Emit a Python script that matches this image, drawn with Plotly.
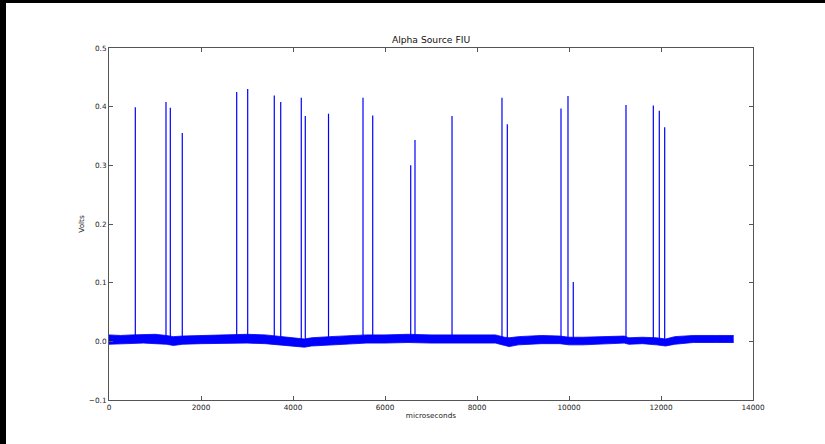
import plotly.graph_objects as go

# ---- data ----
spike_times = [572, 1239, 1333, 1593, 2776, 3015, 3593, 3733, 4180, 4267, 4772,
               5522, 5733, 6559, 6652, 7457, 8543, 8659, 9826, 9978, 10093,
               11239, 11833, 11963, 12080]
spike_peaks = [0.399, 0.408, 0.398, 0.355, 0.425, 0.430, 0.419, 0.408, 0.415, 0.384, 0.388,
               0.415, 0.385, 0.300, 0.343, 0.384, 0.415, 0.370, 0.397, 0.418, 0.101,
               0.403, 0.402, 0.393, 0.365]

band_times = [0, 250, 500, 750, 1000, 1250, 1400, 1600, 2000, 2500, 3000, 3400, 3700,
              4000, 4250, 4400, 4800, 5200, 5600, 6000, 6500, 7000, 7500, 8000, 8400,
              8600, 8700, 8900, 9400, 9800, 10000, 10300, 10800, 11200, 11300, 11600,
              11900, 12100, 12300, 12700, 13200, 13580]
band_upper = [0.011, 0.010, 0.011, 0.012, 0.012, 0.010, 0.008, 0.009, 0.010, 0.011, 0.012,
              0.011, 0.008, 0.006, 0.004, 0.006, 0.008, 0.010, 0.011, 0.011, 0.012, 0.011,
              0.011, 0.011, 0.011, 0.007, 0.006, 0.008, 0.010, 0.009, 0.007, 0.007, 0.008,
              0.009, 0.006, 0.007, 0.006, 0.004, 0.008, 0.010, 0.010, 0.010]
band_lower = [-0.005, -0.004, -0.004, -0.003, -0.004, -0.005, -0.007, -0.005, -0.004, -0.003,
              -0.003, -0.004, -0.006, -0.008, -0.010, -0.008, -0.006, -0.004, -0.003, -0.003,
              -0.002, -0.003, -0.003, -0.003, -0.003, -0.007, -0.009, -0.006, -0.004, -0.004,
              -0.006, -0.006, -0.004, -0.003, -0.005, -0.004, -0.006, -0.008, -0.005, -0.002,
              -0.002, -0.002]

x_ticks = [0, 2000, 4000, 6000, 8000, 10000, 12000, 14000]
y_ticks = [-0.1, 0.0, 0.1, 0.2, 0.3, 0.4, 0.5]

BLUE = "#0000ff"
W, H = 825, 444
ML, MR, MT, MB = 109, 72, 48, 44
PW, PH = W - ML - MR, H - MT - MB

fig = go.Figure()
fig.add_trace(go.Scatter(x=band_times, y=band_upper, mode="lines",
                         line=dict(color=BLUE, width=0.8), hoverinfo="skip", showlegend=False))
fig.add_trace(go.Scatter(x=band_times, y=band_lower, mode="lines", fill="tonexty",
                         fillcolor=BLUE, line=dict(color=BLUE, width=0.8),
                         hoverinfo="skip", showlegend=False))

sx, sy = [], []
for t, p in zip(spike_times, spike_peaks):
    sx += [t, t, None]
    sy += [0.0, p, None]
fig.add_trace(go.Scatter(x=sx, y=sy, mode="lines", line=dict(color=BLUE, width=1.2),
                         showlegend=False))

font = dict(family="DejaVu Sans", size=7.3, color="#222222")
axis_common = dict(showgrid=False, zeroline=False, showline=True, linecolor="#555555",
                   linewidth=1, mirror="allticks", ticks="inside", ticklen=4,
                   tickcolor="#555555", tickfont=font)

fig.update_layout(
    width=W, height=H, autosize=False,
    margin=dict(l=ML, r=MR, t=MT, b=MB),
    paper_bgcolor="white", plot_bgcolor="white",
    title=dict(text="Alpha Source FIU", x=(ML + PW / 2) / W, xanchor="center",
               y=1 - 40 / H, yanchor="middle", yref="container",
               font=dict(family="DejaVu Sans", size=9.2, color="#111111")),
    xaxis=dict(range=[0, 14000], tickvals=x_ticks, tickformat="d",
               title=dict(text="microseconds", font=font, standoff=2), **axis_common),
    yaxis=dict(range=[-0.1, 0.5], tickvals=y_ticks, tickformat=".1f",
               title=dict(text="Volts", font=font, standoff=3), **axis_common),
    shapes=[
        dict(type="rect", xref="paper", yref="paper", layer="above",
             x0=-(ML + 5) / PW, x1=(W - ML + 5) / PW, y0=1 + (MT - 3) / PH,
             y1=1 + (MT + 5) / PH, fillcolor="black", line=dict(width=0)),
        dict(type="rect", xref="paper", yref="paper", layer="above",
             x0=-(ML + 5) / PW, x1=(6 - ML) / PW, y0=-(MB + 5) / PH, y1=1 + (MT + 5) / PH,
             fillcolor="black", line=dict(width=0)),
    ],
)

fig.write_html("out.html", config={"displayModeBar": False},
               post_script="document.body.style.margin='0';"
                           "document.body.style.overflow='hidden';")
